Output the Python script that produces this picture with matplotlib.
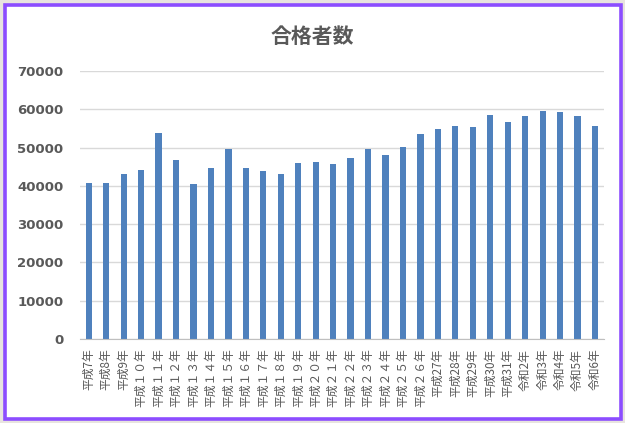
import matplotlib
matplotlib.use('Agg')
import matplotlib.pyplot as plt
from matplotlib.patches import Rectangle

plt.rcParams['font.family'] = ['Noto Sans CJK JP', 'DejaVu Sans']

# 年度ラベル
years = ['平成7年', '平成8年', '平成9年', '平成１０年', '平成１１年', '平成１２年',
         '平成１３年', '平成１４年', '平成１５年', '平成１６年', '平成１７年',
         '平成１８年', '平成１９年', '平成２０年', '平成２１年', '平成２２年',
         '平成２３年', '平成２４年', '平成２５年', '平成２６年', '平成27年',
         '平成28年', '平成29年', '平成30年', '平成31年', '令和2年', '令和3年',
         '令和4年', '令和5年', '令和6年']
# 合格者数
passed = [40800, 40800, 43200, 44300, 53900, 46900, 40600, 44800, 49700, 44800,
          44000, 43200, 45900, 46300, 45700, 47300, 49700, 48000, 50300, 53600,
          54800, 55600, 55400, 58600, 56800, 58400, 59700, 59400, 58300, 55600]
y_ticks = [0, 10000, 20000, 30000, 40000, 50000, 60000, 70000]

fig = plt.figure(figsize=(6.25, 4.23), dpi=100, facecolor='#E8E4DF')
# 白い背景と紫の枠
fig.patches.append(Rectangle((5 / 625, 4 / 423), 616 / 625, 414 / 423,
                             transform=fig.transFigure, facecolor='white',
                             edgecolor='#8C4DFF', linewidth=2.6, zorder=-10))

ax = fig.add_axes([0.128, 0.1986, 0.838, 0.633])
ax.set_facecolor('none')
x = range(len(years))
ax.bar(x, passed, width=0.36, color='#4F81BD', zorder=3)

ax.set_xlim(-0.5, len(years) - 0.5)
ax.set_ylim(0, 70000)
ax.set_yticks(y_ticks)
ax.set_yticklabels([str(v) for v in y_ticks], family='DejaVu Sans',
                   fontweight='bold', fontsize=9.5, color='#595959')
ax.set_xticks(list(x))
ax.set_xticklabels(years, rotation=90, fontsize=8.5, color='#595959')
ax.tick_params(length=0)
ax.tick_params(axis='y', pad=12)
ax.tick_params(axis='x', pad=7)

ax.yaxis.grid(True, color='#D9D9D9', linewidth=1.0, zorder=0)
for s in ['top', 'right', 'left']:
    ax.spines[s].set_visible(False)
ax.spines['bottom'].set_color('#BFBFBF')
ax.spines['bottom'].set_zorder(4)

fig.text(0.5, 0.913, '合格者数', ha='center', va='center', fontsize=15,
         fontweight='bold', color='#595959')

fig.savefig('out.png', dpi=100, facecolor=fig.get_facecolor())
plt.close(fig)
